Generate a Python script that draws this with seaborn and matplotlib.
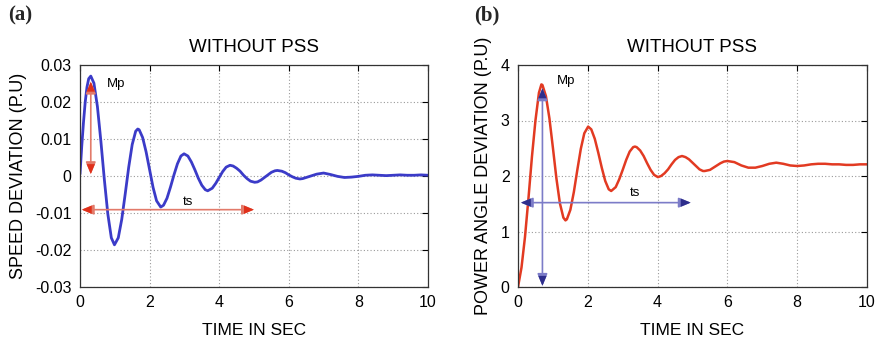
import numpy as np
import pandas as pd
import matplotlib
matplotlib.use("Agg")
import matplotlib.pyplot as plt
import seaborn as sns

# ---------------- data ----------------
speed_t = [0.0, 0.05, 0.1, 0.15, 0.2, 0.25, 0.31, 0.4, 0.5, 0.6, 0.7, 0.8, 0.9, 0.99,
           1.1, 1.2, 1.3, 1.4, 1.5, 1.6, 1.66, 1.7, 1.8, 1.9, 2.0, 2.1, 2.2, 2.32,
           2.4, 2.5, 2.6, 2.7, 2.8, 2.9, 2.99, 3.1, 3.2, 3.3, 3.4, 3.5, 3.6, 3.67,
           3.8, 3.9, 4.0, 4.1, 4.2, 4.31, 4.4, 4.5, 4.6, 4.7, 4.8, 4.9, 5.02,
           5.1, 5.2, 5.3, 5.4, 5.5, 5.6, 5.67, 5.8, 5.9, 6.0, 6.1, 6.2, 6.32,
           6.4, 6.6, 6.8, 7.0, 7.2, 7.4, 7.6, 7.8, 8.0, 8.2, 8.4, 8.6, 8.8,
           9.0, 9.2, 9.4, 9.6, 9.8, 10.0]
speed_dev = [0.0005, 0.008, 0.0145, 0.020, 0.0240, 0.0263, 0.0270, 0.0251, 0.0188, 0.0094,
             -0.0010, -0.0103, -0.0167, -0.0186,
             -0.0167, -0.0117, -0.0048, 0.0024, 0.0085, 0.0121, 0.0127,
             0.0125, 0.0104, 0.0065, 0.0017, -0.0031, -0.0067, -0.0084,
             -0.0079, -0.0060, -0.0030, 0.0003, 0.0033, 0.0054, 0.0060,
             0.0054, 0.0038, 0.0017, -0.0006, -0.0025, -0.0037, -0.0040,
             -0.0033, -0.0020, -0.0004, 0.0012, 0.0024, 0.0029,
             0.0027, 0.0021, 0.0013, 0.0002, -0.0007, -0.0014, -0.0017,
             -0.0016, -0.0011, -0.0004, 0.0003, 0.0010, 0.0014, 0.0015,
             0.0013, 0.0009, 0.0003, -0.0002, -0.0006, -0.0008,
             -0.0007, -0.0001, 0.0005, 0.0008, 0.0004, -0.0001, -0.0004, -0.0003,
             -0.0001, 0.0002, 0.0003, 0.0002, 0.0001,
             0.0002, 0.0003, 0.0002, 0.0002, 0.0003, 0.0002]

angle_t = [0.0, 0.1, 0.2, 0.3, 0.4, 0.5, 0.6, 0.67, 0.7, 0.8, 0.9, 1.0, 1.1, 1.2, 1.3, 1.36,
           1.4, 1.5, 1.6, 1.7, 1.8, 1.9, 2.01, 2.1, 2.2, 2.3, 2.4, 2.5, 2.6, 2.67,
           2.8, 2.9, 3.0, 3.1, 3.2, 3.3, 3.35, 3.4, 3.5, 3.6, 3.7, 3.8, 3.9, 4.01,
           4.1, 4.2, 4.3, 4.4, 4.5, 4.6, 4.7, 4.8, 4.9, 5.0, 5.1, 5.2, 5.3, 5.35,
           5.5, 5.6, 5.7, 5.8, 5.9, 6.0, 6.2, 6.4, 6.6, 6.8, 7.0, 7.2, 7.4, 7.6,
           7.8, 8.0, 8.2, 8.4, 8.6, 8.8, 9.0, 9.2, 9.4, 9.6, 9.8, 10.0]
angle_dev = [0.0, 0.35, 0.9, 1.6, 2.35, 3.0, 3.5, 3.65, 3.64, 3.44, 3.04, 2.51, 1.96, 1.51, 1.25, 1.20,
             1.22, 1.39, 1.71, 2.11, 2.49, 2.77, 2.89, 2.84, 2.67, 2.42, 2.15, 1.91, 1.76, 1.73,
             1.80, 1.94, 2.11, 2.29, 2.44, 2.52, 2.53, 2.52, 2.46, 2.36, 2.23, 2.11, 2.02, 1.98,
             2.00, 2.05, 2.12, 2.21, 2.29, 2.34, 2.36, 2.34, 2.30, 2.24, 2.18, 2.12, 2.09, 2.09,
             2.11, 2.15, 2.19, 2.23, 2.26, 2.27, 2.25, 2.19, 2.15, 2.15, 2.18, 2.22, 2.24, 2.22,
             2.19, 2.18, 2.19, 2.21, 2.22, 2.22, 2.21, 2.21, 2.20, 2.20, 2.21, 2.21]

panel_labels = ["(a)", "(b)"]
titles = ["WITHOUT PSS", "WITHOUT PSS"]
ylabels = ["SPEED DEVIATION (P.U)", "POWER ANGLE DEVIATION (P.U)"]
xlabel = "TIME IN SEC"
x_ticks = [0, 2, 4, 6, 8, 10]
speed_ticks = [-0.03, -0.02, -0.01, 0, 0.01, 0.02, 0.03]
speed_ticklabels = ["-0.03", "-0.02", "-0.01", "0", "0.01", "0.02", "0.03"]
angle_ticks = [0, 1, 2, 3, 4]

# annotation values (data coords)
a_mp = dict(x=0.31, y0=0.0255, y1=0.0005, tx=0.78, ty=0.0250)
a_ts = dict(y=-0.0091, x0=0.05, x1=5.0, tx=2.95, ty=-0.0070)
b_mp = dict(x=0.70, y0=3.58, y1=0.02, tx=1.12, ty=3.72)
b_ts = dict(y=1.52, x0=0.08, x1=4.95, tx=3.2, ty=1.70)

# ---------------- styling ----------------
sns.set_theme(style="white")
plt.rcParams["font.family"] = ["Liberation Sans", "DejaVu Sans"]

fig = plt.figure(figsize=(8.79, 3.43), dpi=100)
axA = fig.add_axes([80 / 879, 1 - 287 / 343, 348 / 879, 222 / 343])
axB = fig.add_axes([518 / 879, 1 - 287 / 343, 349 / 879, 222 / 343])

dfA = pd.DataFrame({"t": speed_t, "v": speed_dev})
dfB = pd.DataFrame({"t": angle_t, "v": angle_dev})

sns.lineplot(data=dfA, x="t", y="v", ax=axA, color="#3b3bc8", linewidth=2.0,
             estimator=None, sort=False)
sns.lineplot(data=dfB, x="t", y="v", ax=axB, color="#e23a22", linewidth=1.8,
             estimator=None, sort=False)

TXT = "#000000"


def style_axes(ax, yticks, ylim, ylabel, title, yticklabels=None):
    ax.set_xlim(0, 10)
    ax.set_ylim(*ylim)
    ax.set_xticks(x_ticks)
    ax.set_yticks(yticks)
    if yticklabels is not None:
        ax.set_yticklabels(yticklabels)
    ax.grid(True, linestyle=(0, (1, 2)), color="#9a9a9a", linewidth=0.8)
    for s in ax.spines.values():
        s.set_visible(True)
        s.set_color("#333333")
        s.set_linewidth(0.9)
    ax.tick_params(direction="in", length=4, width=0.8, top=True, right=True,
                   labelsize=11.5, colors=TXT, pad=6)
    ax.set_xlabel(xlabel, fontsize=12.5, labelpad=9, color=TXT)
    ax.set_ylabel(ylabel, fontsize=13, labelpad=6, color=TXT)
    ax.set_title(title, fontsize=13.5, pad=9, color=TXT)


style_axes(axA, speed_ticks, (-0.03, 0.03), ylabels[0], titles[0], speed_ticklabels)
style_axes(axB, angle_ticks, (0, 4), ylabels[1], titles[1])


def dbl_arrow(ax, p0, p1, line_color, head_color):
    ax.annotate("", xy=p1, xytext=p0,
                arrowprops=dict(arrowstyle="<|-|>,head_length=0.6,head_width=0.25",
                                color=line_color, lw=1.2, shrinkA=0, shrinkB=0))
    ax.annotate("", xy=p1, xytext=p0,
                arrowprops=dict(arrowstyle="<|-|>,head_length=0.6,head_width=0.25",
                                color=head_color, lw=0, shrinkA=0, shrinkB=0))


# panel (a) annotations
dbl_arrow(axA, (a_mp["x"], a_mp["y1"]), (a_mp["x"], a_mp["y0"]), "#e27a6a", "#e0301a")
axA.text(a_mp["tx"], a_mp["ty"], "Mp", fontsize=9.5, color=TXT, va="center", ha="left")
dbl_arrow(axA, (a_ts["x0"], a_ts["y"]), (a_ts["x1"], a_ts["y"]), "#e27a6a", "#e0301a")
axA.text(a_ts["tx"], a_ts["ty"], "ts", fontsize=9.5, color=TXT, va="center", ha="left")

# panel (b) annotations
dbl_arrow(axB, (b_mp["x"], b_mp["y1"]), (b_mp["x"], b_mp["y0"]), "#7c7cc8", "#2e2e8c")
axB.text(b_mp["tx"], b_mp["ty"], "Mp", fontsize=9.5, color=TXT, va="center", ha="left")
dbl_arrow(axB, (b_ts["x0"], b_ts["y"]), (b_ts["x1"], b_ts["y"]), "#7c7cc8", "#2e2e8c")
axB.text(b_ts["tx"], b_ts["ty"], "ts", fontsize=9.5, color=TXT, va="center", ha="left")

# panel letters
fig.text(8 / 879, 1 - 15 / 343, panel_labels[0], fontsize=15, fontweight="bold",
         family=["Liberation Serif", "DejaVu Serif"], va="center", ha="left")
fig.text(474 / 879, 1 - 15 / 343, panel_labels[1], fontsize=15, fontweight="bold",
         family=["Liberation Serif", "DejaVu Serif"], va="center", ha="left")

fig.savefig("out.png", dpi=100)
